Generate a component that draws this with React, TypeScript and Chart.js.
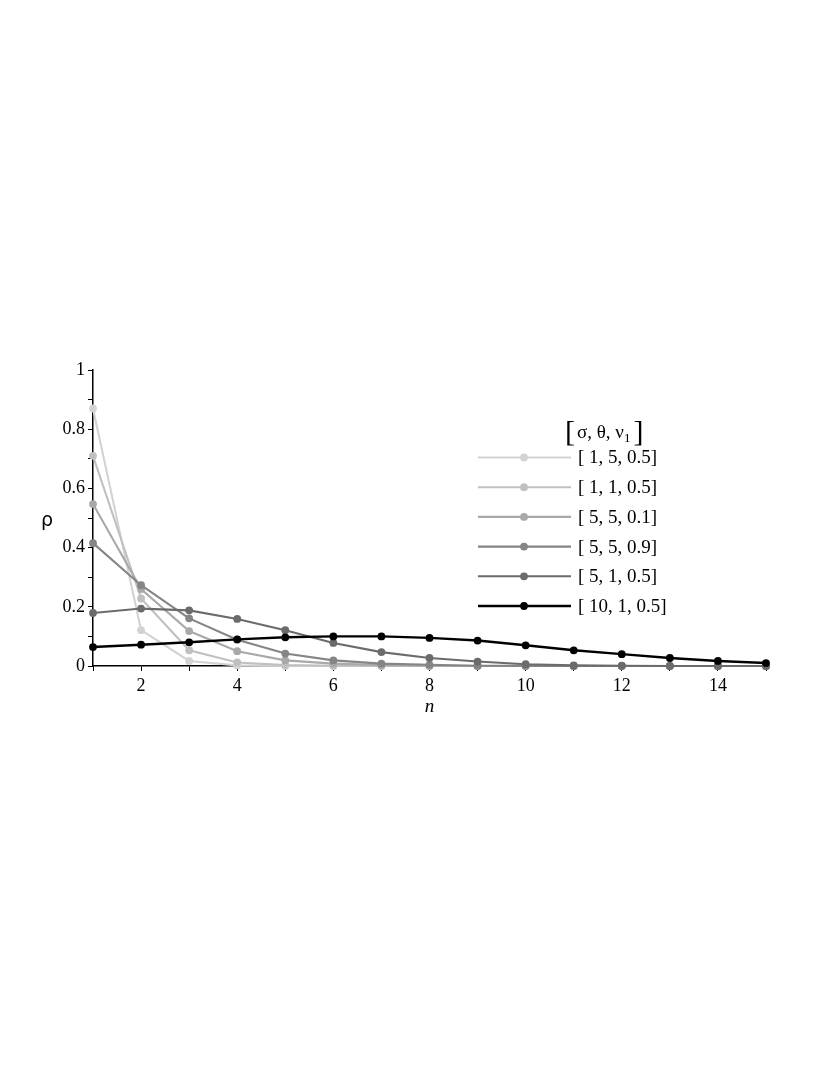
import { useEffect, useRef } from "react";
import { Chart, registerables } from "chart.js";
Chart.register(...registerables);

const nValues = [1, 2, 3, 4, 5, 6, 7, 8, 9, 10, 11, 12, 13, 14, 15];
const seriesLabels = ["[ 1, 5, 0.5]", "[ 1, 1, 0.5]", "[ 5, 5, 0.1]", "[ 5, 5, 0.9]", "[ 5, 1, 0.5]", "[ 10, 1, 0.5]"];
const seriesColors = ["#d3d3d3", "#c0c0c0", "#a9a9a9", "#858585", "#6b6b6b", "#000000"];
const s1 = [0.87, 0.121, 0.017, 0.002, 0.0003, 0, 0, 0, 0, 0, 0, 0, 0, 0, 0];
const s2 = [0.71, 0.228, 0.053, 0.012, 0.003, 0.001, 0, 0, 0, 0, 0, 0, 0, 0, 0];
const s3 = [0.547, 0.26, 0.118, 0.05, 0.019, 0.008, 0.003, 0.001, 0, 0, 0, 0, 0, 0, 0];
const s4 = [0.415, 0.273, 0.161, 0.089, 0.042, 0.019, 0.008, 0.004, 0.001, 0.0005, 0, 0, 0, 0, 0];
const s5 = [0.179, 0.194, 0.188, 0.159, 0.121, 0.078, 0.047, 0.027, 0.015, 0.006, 0.002, 0.001, 0, 0, 0];
const s6 = [0.064, 0.072, 0.08, 0.09, 0.097, 0.1, 0.1, 0.095, 0.086, 0.07, 0.053, 0.04, 0.027, 0.017, 0.01];
const allSeries = [s1, s2, s3, s4, s5, s6];
const yTitle = "ρ";
const xTitle = "n";

const SERIF = "'Liberation Serif', 'Times New Roman', serif";

const overlayPlugin = {
  id: "overlay",
  afterDraw(chart: any) {
    const ctx = chart.ctx;
    const area = chart.chartArea;
    ctx.save();
    ctx.fillStyle = "#000";
    // axis titles
    ctx.font = "19px 'DejaVu Sans', sans-serif";
    ctx.textAlign = "center";
    ctx.textBaseline = "middle";
    ctx.fillText(yTitle, 47, (area.top + area.bottom) / 2 + 3);
    ctx.font = "italic 19px " + SERIF;
    ctx.fillText(xTitle, (area.left + area.right) / 2, 707);

    // legend title
    const tx = 565;
    const ty = 433;
    ctx.textAlign = "left";
    ctx.textBaseline = "middle";
    ctx.font = "30px " + SERIF;
    ctx.fillText("[", tx, ty);
    let x = tx + ctx.measureText("[").width + 2;
    ctx.font = "19px " + SERIF;
    const body = "σ, θ, ν";
    ctx.fillText(body, x, ty);
    x += ctx.measureText(body).width;
    ctx.font = "13px " + SERIF;
    ctx.fillText("1", x, ty + 6);
    x += ctx.measureText("1").width + 3;
    ctx.font = "30px " + SERIF;
    ctx.fillText("]", x, ty);

    // legend entries
    const datasets = chart.data.datasets;
    for (let i = 0; i < datasets.length; i++) {
      const ds = datasets[i];
      const y = 457.5 + i * 29.7;
      ctx.strokeStyle = ds.borderColor;
      ctx.lineWidth = ds.borderWidth;
      ctx.beginPath();
      ctx.moveTo(478, y);
      ctx.lineTo(571, y);
      ctx.stroke();
      ctx.fillStyle = ds.pointBackgroundColor;
      ctx.beginPath();
      ctx.arc(524, y, ds.pointRadius, 0, Math.PI * 2);
      ctx.fill();
      ctx.fillStyle = "#000";
      ctx.font = "19px " + SERIF;
      ctx.textBaseline = "middle";
      ctx.fillText(ds.label, 578, y + 1);
    }
    ctx.restore();
  },
};

export default function App() {
  const ref = useRef<HTMLCanvasElement | null>(null);
  useEffect(() => {
    if (!ref.current) return;
    const datasets = allSeries.map((s, i) => ({
      label: seriesLabels[i],
      data: nValues.map((n, k) => ({ x: n, y: s[k] })),
      borderColor: seriesColors[i],
      backgroundColor: seriesColors[i],
      pointBackgroundColor: seriesColors[i],
      pointBorderWidth: 0,
      pointRadius: 3.9,
      borderWidth: i === 5 ? 2.4 : 2.1,
      tension: 0,
      fill: false,
      clip: false as any,
      order: 5 - i,
    }));
    const chart = new Chart(ref.current, {
      type: "line",
      data: { datasets },
      plugins: [overlayPlugin],
      options: {
        animation: false,
        responsive: false,
        events: [],
        layout: { padding: { left: 0, top: 370, right: 64, bottom: 1075 - 666 - 60 } },
        plugins: { legend: { display: false }, tooltip: { enabled: false } },
        scales: {
          x: {
            type: "linear",
            min: 1,
            max: 15,
            afterFit: (s: any) => {
              s.height = 60;
            },
            ticks: {
              stepSize: 1,
              autoSkip: false,
              maxRotation: 0,
              color: "#000",
              padding: 4,
              font: { family: SERIF, size: 18 },
              callback: (v: any) => (Number(v) % 2 === 0 ? String(v) : ""),
            },
            grid: { drawOnChartArea: false, drawTicks: true, tickLength: 5, color: "#000", lineWidth: 1 },
            border: { color: "#000", width: 1.5 },
          },
          y: {
            type: "linear",
            min: 0,
            max: 1,
            afterFit: (s: any) => {
              s.width = 93;
            },
            ticks: {
              stepSize: 0.1,
              autoSkip: false,
              color: "#000",
              padding: 3,
              font: { family: SERIF, size: 18 },
              callback: (v: any) => {
                const t = Math.round(Number(v) * 10);
                return t % 2 === 0 ? String(t / 10) : "";
              },
            },
            grid: { drawOnChartArea: false, drawTicks: true, tickLength: 5, color: "#000", lineWidth: 1 },
            border: { color: "#000", width: 1.5 },
          },
        },
      },
    });
    return () => chart.destroy();
  }, []);
  return (
    <canvas
      ref={ref}
      width={830}
      height={1075}
      style={{ position: "absolute", left: 0, top: 0, display: "block", background: "#fff" }}
    />
  );
}
